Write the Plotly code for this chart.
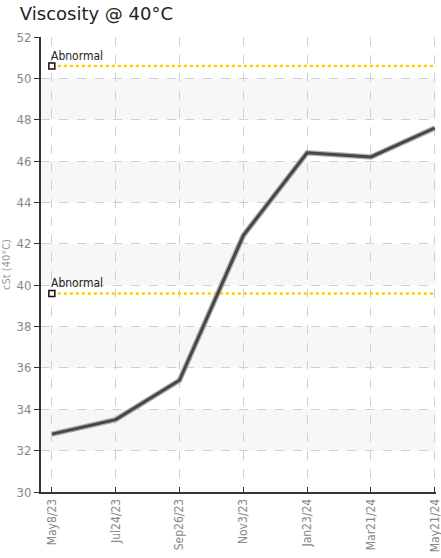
import plotly.graph_objects as go

dates = ["May8/23", "Jul24/23", "Sep26/23", "Nov3/23", "Jan23/24", "Mar21/24", "May21/24"]
viscosity = [32.8, 33.5, 35.4, 42.4, 46.4, 46.2, 47.6]
limit_upper = 50.6
limit_lower = 39.6
limit_label = "Abnormal"
y_ticks = [30, 32, 34, 36, 38, 40, 42, 44, 46, 48, 50, 52]

NARROW = "DejaVu Sans Condensed, Liberation Sans Narrow, sans-serif"
idx = list(range(len(dates)))
fig = go.Figure()

# alternating bands
for i in range(1, len(y_ticks) - 1, 2):
    fig.add_shape(type="rect", xref="paper", yref="y", x0=0, x1=1,
                  y0=y_ticks[i], y1=y_ticks[i + 1], fillcolor="#f7f7f7",
                  line_width=0, layer="below")

for lim in [limit_upper, limit_lower]:
    fig.add_trace(go.Scatter(x=[idx[0], idx[-1] + 0.02], y=[lim, lim], mode="lines",
                             line=dict(color="#FFCC00", width=2.5, dash="dot"),
                             hoverinfo="skip", showlegend=False))
    fig.add_trace(go.Scatter(x=[idx[0]], y=[lim], mode="markers",
                             marker=dict(symbol="square", size=6, color="white",
                                         line=dict(color="#111", width=1.5)),
                             hoverinfo="skip", showlegend=False))
    fig.add_annotation(x=idx[0], y=lim, text=limit_label, showarrow=False,
                       xanchor="left", yanchor="bottom", xshift=-3, yshift=1,
                       font=dict(family=NARROW, size=12, color="#222"))

fig.add_trace(go.Scatter(x=idx, y=viscosity, mode="lines",
                         line=dict(color="#b0b0b0", width=5.5), hoverinfo="skip",
                         showlegend=False))
fig.add_trace(go.Scatter(x=idx, y=viscosity, mode="lines",
                         line=dict(color="#474747", width=3), showlegend=False))

fig.update_layout(
    width=441, height=558,
    margin=dict(l=41, r=5, t=37, b=66),
    paper_bgcolor="white", plot_bgcolor="white",
    title=dict(text="Viscosity @ 40°C", x=0.045, xanchor="left", y=0.975, yanchor="middle",
               font=dict(family="DejaVu Sans, sans-serif", size=18, color="#222")),
    font=dict(family=NARROW, color="#888"),
    xaxis=dict(tickmode="array", tickvals=idx, ticktext=dates, tickangle=-90,
               range=[-0.17, 6.02], showgrid=True, gridcolor="#d0d0d0", griddash="dash",
               gridwidth=1, zeroline=False, showline=True, linecolor="#333", linewidth=2,
               ticks="inside", ticklen=5, tickcolor="#333", automargin=False,
               ticklabeloverflow="allow",
               tickfont=dict(size=12, color="#888")),
    yaxis=dict(range=[30, 52], tickvals=y_ticks, showgrid=True, gridcolor="#d0d0d0",
               griddash="dash", zeroline=False, showline=True, linecolor="#333", linewidth=2,
               ticks="outside", ticklen=5, tickcolor="#333", automargin=False,
               tickfont=dict(size=13, color="#888"),
               title=dict(text="cSt (40°C)", standoff=4,
                          font=dict(size=11, color="#999"))),
)

fig.write_html("out.html", config={"displayModeBar": False},
               post_script="document.body.style.margin='0';")
